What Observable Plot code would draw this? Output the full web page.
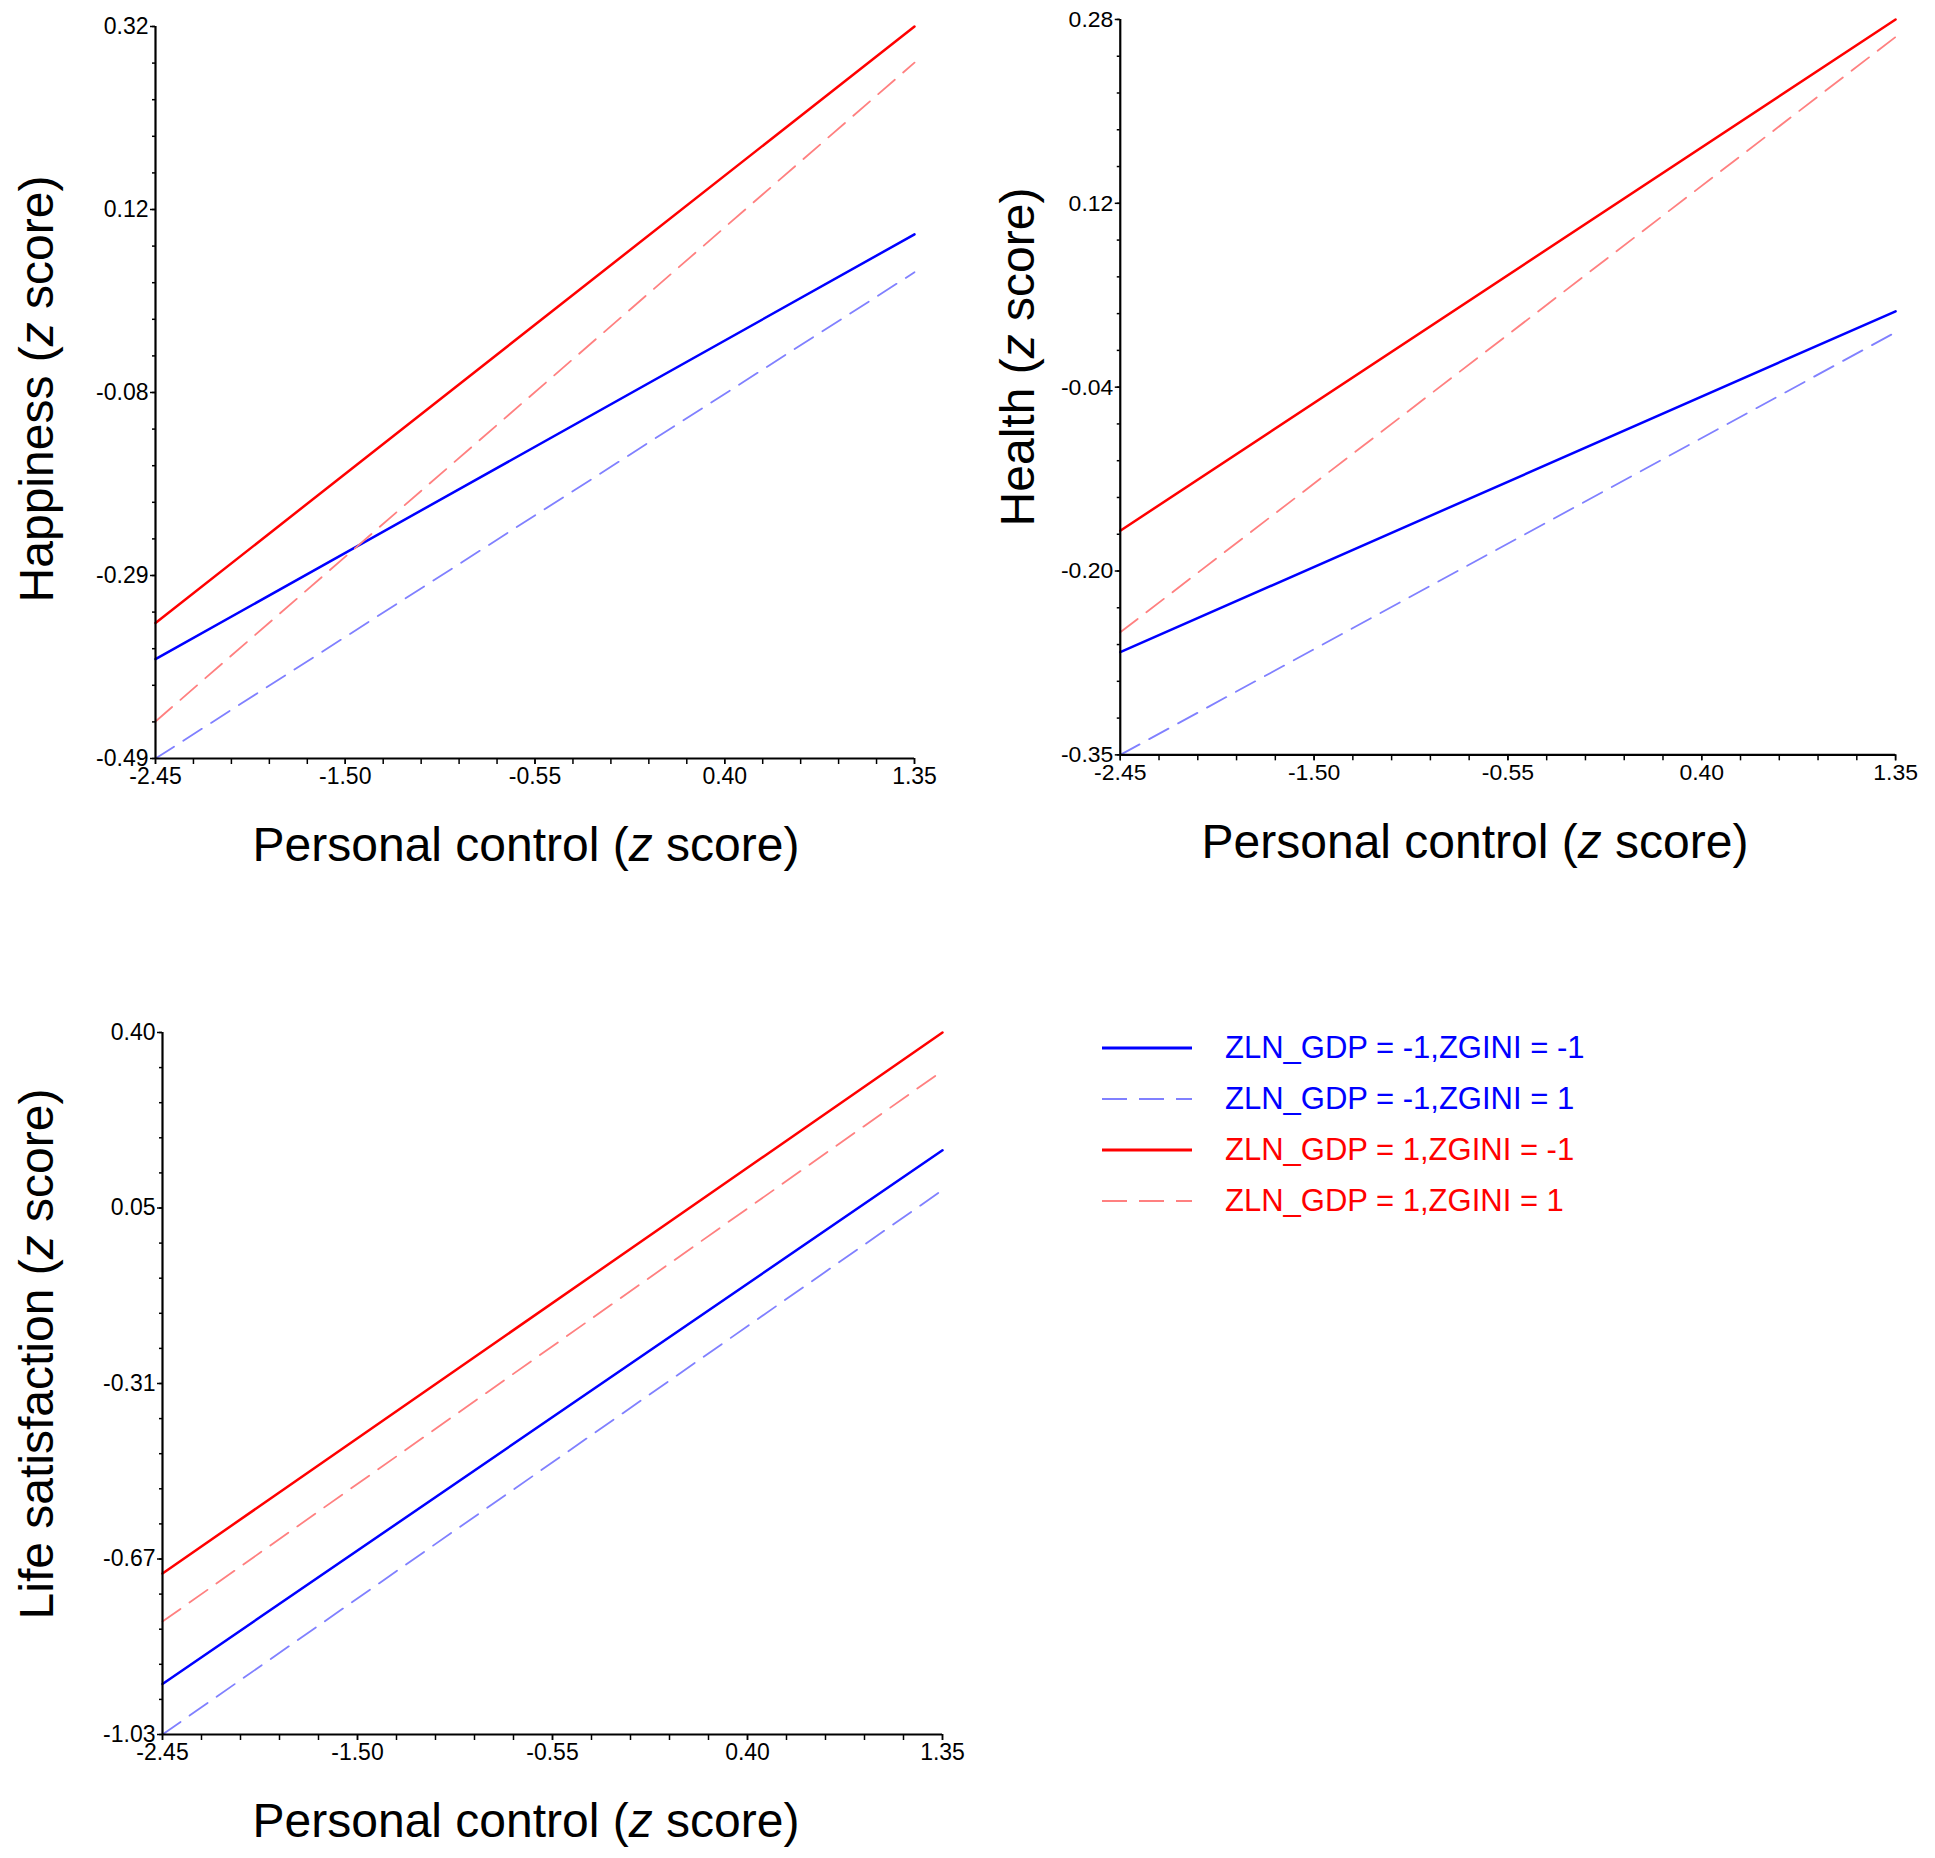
<!DOCTYPE html>
<html>
<head>
<meta charset="utf-8">
<script src="https://cdn.jsdelivr.net/npm/d3@7"></script>
<script src="https://cdn.jsdelivr.net/npm/@observablehq/plot@0.6"></script>
<style>
  body { margin: 0; background: #fff; }
  #root { position: relative; width: 1935px; height: 1858px; overflow: hidden; font-family: "Liberation Sans", Arial, sans-serif; background: #fff; }
  .panel { position: absolute; }
  .title { position: absolute; font-size: 48px; line-height: 1; white-space: nowrap; color: #000; transform: translate(-50%, -50%); }
  .ytitle { transform: translate(-50%, -50%) rotate(-90deg); }
  .legrow { position: absolute; height: 40px; display: flex; align-items: center; font-size: 31px; white-space: nowrap; }
</style>
</head>
<body>
<div id="root"></div>
<script>
// ---------- data ----------
const seriesLabels = ["ZLN_GDP = -1,ZGINI = -1", "ZLN_GDP = -1,ZGINI = 1", "ZLN_GDP = 1,ZGINI = -1", "ZLN_GDP = 1,ZGINI = 1"];
const seriesColors = ["#0000ff", "#8080ff", "#ff0000", "#ff8080"];
const legendTextColors = ["#0000ff", "#0000ff", "#ff0000", "#ff0000"];
const seriesDash = [null, "22,11", null, "22,11"];
const seriesWidth = [2.5, 1.8, 2.5, 1.8];

const xEnds = [-2.45, 1.35];
const xTickValues = [-2.45, -1.50, -0.55, 0.40, 1.35];
const xTickLabels = ["-2.45", "-1.50", "-0.55", "0.40", "1.35"];

// Happiness
const happinessDomain = [-0.49, 0.32];
const happinessTickLabels = ["-0.49", "-0.29", "-0.08", "0.12", "0.32"];
const happinessStart = [-0.38, -0.49, -0.34, -0.449];
const happinessEnd = [0.09, 0.048, 0.32, 0.28];

// Health
const healthDomain = [-0.35, 0.28];
const healthTickLabels = ["-0.35", "-0.20", "-0.04", "0.12", "0.28"];
const healthStart = [-0.262, -0.35, -0.158, -0.245];
const healthEnd = [0.03, 0.012, 0.28, 0.265];

// Life satisfaction
const lifeDomain = [-1.03, 0.40];
const lifeTickLabels = ["-1.03", "-0.67", "-0.31", "0.05", "0.40"];
const lifeStart = [-0.927, -1.03, -0.702, -0.80];
const lifeEnd = [0.16, 0.079, 0.40, 0.322];

// ---------- drawing ----------
const root = document.getElementById("root");

function lookup(values, labels, d) {
  const i = values.findIndex(v => Math.abs(v - d) < 1e-9);
  return i >= 0 ? labels[i] : "";
}

function makePanel({yDomain, yLabels, starts, ends, left, top, w, h}) {
  const ML = 110, MT = 20, MR = 40, MB = 60;
  const [x0, x1] = [xTickValues[0], xTickValues[xTickValues.length - 1]];
  const [y0, y1] = yDomain;
  const yMajor = d3.range(5).map(i => y0 + i * (y1 - y0) / 4);
  const yMinor = d3.range(21).map(i => y0 + i * (y1 - y0) / 20);
  const xMinor = d3.range(21).map(i => x0 + i * (x1 - x0) / 20);

  const lineMarks = seriesLabels.map((s, k) => {
    const pts = xEnds.map((x, j) => ({x, y: j === 0 ? starts[k] : ends[k], s}));
    const opts = {x: "x", y: "y", stroke: seriesColors[k], strokeWidth: seriesWidth[k]};
    if (seriesDash[k]) opts.strokeDasharray = seriesDash[k];
    return Plot.line(pts, opts);
  });

  const chart = Plot.plot({
    width: w + ML + MR,
    height: h + MT + MB,
    marginLeft: ML, marginRight: MR, marginTop: MT, marginBottom: MB,
    x: {domain: [x0, x1], label: null},
    y: {domain: yDomain, label: null},
    style: {fontFamily: "'Liberation Sans', Arial, sans-serif", fontSize: "23px", color: "#000", background: "transparent", overflow: "visible"},
    marks: [
      ...lineMarks,
      Plot.axisX({ticks: xMinor, tickSize: 6, tickFormat: () => "", strokeWidth: 1.5, label: null}),
      Plot.axisX({ticks: xTickValues, tickSize: 6, tickPadding: 3, strokeWidth: 1.5, fontSize: 23,
                  tickFormat: d => lookup(xTickValues, xTickLabels, d), label: null}),
      Plot.axisY({ticks: yMinor, tickSize: 3, tickFormat: () => "", strokeWidth: 1.5, label: null}),
      Plot.axisY({ticks: yMajor, tickSize: 5, tickPadding: 2, strokeWidth: 1.5, fontSize: 23,
                  tickFormat: d => lookup(yMajor, yLabels, d), label: null}),
      Plot.ruleX([x0], {stroke: "#000", strokeWidth: 2.2}),
      Plot.ruleY([y0], {stroke: "#000", strokeWidth: 2.2})
    ]
  });
  const div = document.createElement("div");
  div.className = "panel";
  div.style.left = (left - ML) + "px";
  div.style.top = (top - MT) + "px";
  div.appendChild(chart);
  root.appendChild(div);
}

function addTitle(html, cx, cy, vertical) {
  const d = document.createElement("div");
  d.className = "title" + (vertical ? " ytitle" : "");
  d.style.left = cx + "px";
  d.style.top = cy + "px";
  d.innerHTML = html;
  root.appendChild(d);
}

makePanel({yDomain: happinessDomain, yLabels: happinessTickLabels, starts: happinessStart, ends: happinessEnd,
           left: 155, top: 26, w: 759, h: 732});
makePanel({yDomain: healthDomain, yLabels: healthTickLabels, starts: healthStart, ends: healthEnd,
           left: 1120, top: 19, w: 777, h: 737});
makePanel({yDomain: lifeDomain, yLabels: lifeTickLabels, starts: lifeStart, ends: lifeEnd,
           left: 162, top: 1032, w: 780, h: 702});

const xTitle = "Personal control (<i>z</i> score)";
addTitle("Happiness (<i>z</i> score)", 37, 389, true);
addTitle(xTitle, 526, 845, false);
addTitle("Health (<i>z</i> score)", 1018, 357, true);
addTitle(xTitle, 1475, 842, false);
addTitle("Life satisfaction (<i>z</i> score)", 37, 1354, true);
addTitle(xTitle, 526, 1821, false);

// legend
const legendRows = [1048, 1099, 1150, 1201];
seriesLabels.forEach((s, k) => {
  const row = document.createElement("div");
  row.className = "legrow";
  row.style.left = "1102px";
  row.style.top = (legendRows[k] - 20) + "px";
  const dash = seriesDash[k] ? `stroke-dasharray="25,12"` : "";
  const sw = seriesDash[k] ? 2 : 3;
  row.innerHTML = `<svg width="90" height="40" style="display:block"><line x1="0" y1="20" x2="90" y2="20" stroke="${seriesColors[k]}" stroke-width="${sw}" ${dash}/></svg>` +
    `<span style="margin-left:33px;color:${legendTextColors[k]}">${s}</span>`;
  root.appendChild(row);
});
</script>
</body>
</html>
